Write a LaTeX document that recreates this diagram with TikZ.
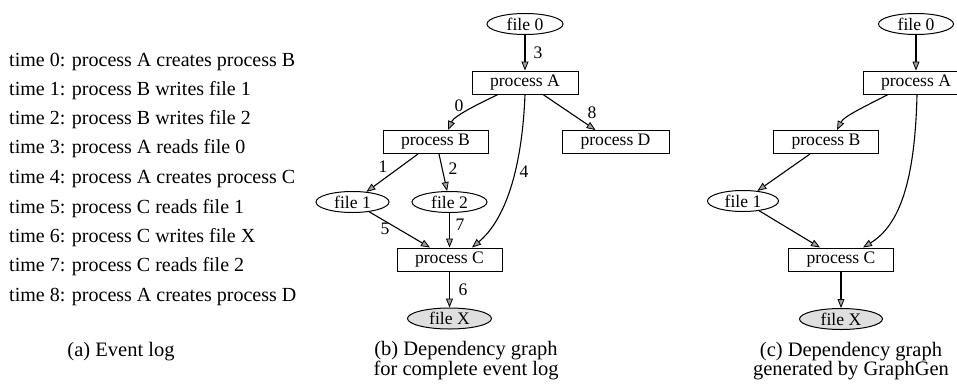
\documentclass[tikz,border=0pt]{standalone}
\usepackage{fontspec}
\setmainfont{Liberation Serif}
\usetikzlibrary{arrows.meta,shapes.geometric}
\tikzset{
  proc/.style={draw, line width=1pt, rectangle, minimum width=105pt, minimum height=23pt, inner sep=0pt, font=\fontsize{17.6}{20}\selectfont},
  fil/.style={draw, line width=1pt, ellipse, minimum height=21pt, inner sep=0pt, font=\fontsize{17.6}{20}\selectfont},
  outfil/.style={fil, fill=gray!25},
  arr/.style={line width=1.1pt, -{Triangle[length=9pt,width=7pt,fill=gray!75,line width=0.8pt]}},
  lbl/.style={inner sep=0pt, font=\fontsize{17.6}{20}\selectfont},
  logline/.style={anchor=west, inner sep=0pt, font=\fontsize{20}{24}\selectfont},
  capt/.style={inner sep=0pt, align=center, font=\fontsize{20.5}{18.5}\selectfont}
}
\begin{document}
\begin{tikzpicture}[x=1pt,y=-1pt]
\clip (0,0) rectangle (957,383);
\fill[white] (0,0) rectangle (957,383);
% (a) event log
\node[logline] (t0) at (9,62) {time 0: process A creates process B};
\node[logline] (t1) at (9,91) {time 1: process B writes file 1};
\node[logline] (t2) at (9,120) {time 2: process B writes file 2};
\node[logline] (t3) at (9,149) {time 3: process A reads file 0};
\node[logline] (t4) at (9,179) {time 4: process A creates process C};
\node[logline] (t5) at (9,209) {time 5: process C reads file 1};
\node[logline] (t6) at (9,238) {time 6: process C writes file X};
\node[logline] (t7) at (9,267) {time 7: process C reads file 2};
\node[logline] (t8) at (9,297) {time 8: process A creates process D};
\node[capt] (ca) at (121,352) {(a) Event log};
% (b) complete graph
\node[fil, minimum width=76pt] (bf0) at (525,24) {file 0};
\node[proc, minimum width=106pt] (bA) at (525,82.5) {process A};
\node[proc] (bB) at (435.5,142) {process B};
\node[proc, minimum width=107pt] (bD) at (615.5,142) {process D};
\node[fil, minimum width=73pt] (bf1) at (352.5,202) {file 1};
\node[fil, minimum width=75pt] (bf2) at (449.5,202) {file 2};
\node[proc] (bC) at (449.5,259.5) {process C};
\node[outfil, minimum width=84pt] (bfX) at (449.5,318.5) {file X};
\draw[arr] (bf0) -- (bA);
\draw[arr] ([xshift=-27pt]bA.south) .. controls (478,104) and (454,116) .. ([xshift=12.5pt]bB.north);
\draw[arr] ([xshift=18pt]bA.south) -- ([xshift=-20pt]bD.north);
\draw[arr] (bA.south) .. controls (522,170) and (505,220) .. ([xshift=22.5pt]bC.north);
\draw[arr] ([xshift=-17.5pt]bB.south) -- (bf1);
\draw[arr] ([xshift=3.5pt]bB.south) -- (bf2);
\draw[arr] (bf1) -- ([xshift=-19.5pt]bC.north);
\draw[arr] (bf2) -- (bC);
\draw[arr] (bC) -- (bfX);
\node[lbl] (l3) at (538,53) {3};
\node[lbl] (l0) at (459,106) {0};
\node[lbl] (l8) at (592,113) {8};
\node[lbl] (l1) at (383,167) {1};
\node[lbl] (l2) at (453,169) {2};
\node[lbl] (l4) at (524,172) {4};
\node[lbl] (l5) at (385,229) {5};
\node[lbl] (l7) at (460,225) {7};
\node[lbl] (l6) at (463,290) {6};
\node[capt] (cb) at (466,361) {(b) Dependency graph\\for complete event log};
% (c) GraphGen graph
\node[fil, minimum width=75pt] (cf0) at (916,24) {file 0};
\node[proc, minimum width=106pt] (cA) at (916,82.5) {process A};
\node[proc] (cB) at (826,142) {process B};
\node[fil, minimum width=71pt] (cf1) at (743,201) {file 1};
\node[proc] (cC) at (841,259.5) {process C};
\node[outfil, minimum width=83pt] (cfX) at (841,319) {file X};
\draw[arr] (cf0) -- (cA);
\draw[arr] ([xshift=-28pt]cA.south) .. controls (868,105) and (844,116) .. ([xshift=11pt]cB.north);
\draw[arr] ([xshift=1pt]cA.south) .. controls (915,180) and (900,225) .. ([xshift=22pt]cC.north);
\draw[arr] ([xshift=-16pt]cB.south) -- (cf1);
\draw[arr] (cf1) -- ([xshift=-21pt]cC.north);
\draw[arr] (cC) -- (cfX);
\node[capt] (cc) at (851,361) {(c) Dependency graph\\generated by GraphGen};
\end{tikzpicture}
\end{document}
